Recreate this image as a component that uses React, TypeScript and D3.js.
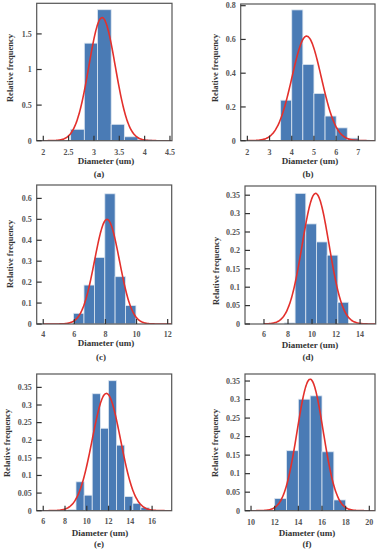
import { useEffect, useRef } from 'react';
import * as d3 from 'd3';

// panel letters
const panelNames = ['(a)', '(b)', '(c)', '(d)', '(e)', '(f)'];

// bin edges and relative frequencies
const edgesA = [2.54, 2.81, 3.07, 3.34, 3.6, 3.87, 4.14];
const freqA = [0.16, 1.37, 1.84, 0.23, 0.055, 0.015];

const edgesB = [3.5, 4, 4.5, 5, 5.5, 6, 6.5, 7, 7.5];
const freqB = [0.24, 0.775, 0.452, 0.28, 0.146, 0.076, 0.015, 0.004];

const edgesC = [5.95, 6.62, 7.29, 7.96, 8.62, 9.29, 9.96];
const freqC = [0.051, 0.186, 0.318, 0.622, 0.226, 0.088];

const edgesD = [7.7, 8.59, 9.48, 10.37, 11.26, 12.15, 13.04];
const freqD = [0.003, 0.355, 0.272, 0.223, 0.187, 0.059];

const edgesE = [8.27, 9.01, 9.76, 10.5, 11.25, 11.99, 12.74, 13.48, 14.23, 14.97, 15.72];
const freqE = [0.003, 0.082, 0.044, 0.332, 0.234, 0.369, 0.186, 0.04, 0.021, 0.009];

const edgesF = [12, 13, 14, 15, 16, 17, 18];
const freqF = [0.033, 0.162, 0.301, 0.31, 0.159, 0.029];

// fitted normal curves (mean, sd, peak height)
const fitMean = [3.16, 4.67, 8.1, 10.3, 11.8, 15.0];
const fitSd = [0.26, 0.66, 0.8, 1.12, 1.3, 1.1];
const fitPeak = [1.73, 0.62, 0.5, 0.355, 0.333, 0.355];

// axis domains
const xDomains = [[1.87, 4.54], [1.7, 7.75], [3.58, 12.26], [4.42, 15.3], [5.4, 17.8], [9.49, 20.48]];
const yDomains = [[0, 1.93], [0, 0.81], [0, 0.664], [0, 0.375], [0, 0.388], [0, 0.369]];

// tick values
const xTicks = [
  [2, 2.5, 3, 3.5, 4, 4.5],
  [2, 3, 4, 5, 6, 7],
  [4, 6, 8, 10, 12],
  [6, 8, 10, 12, 14],
  [6, 8, 10, 12, 14, 16],
  [10, 12, 14, 16, 18, 20],
];
const yTicks = [
  [0, 0.5, 1, 1.5],
  [0, 0.2, 0.4, 0.6, 0.8],
  [0, 0.1, 0.2, 0.3, 0.4, 0.5, 0.6],
  [0, 0.05, 0.1, 0.15, 0.2, 0.25, 0.3, 0.35],
  [0, 0.05, 0.1, 0.15, 0.2, 0.25, 0.3, 0.35],
  [0, 0.05, 0.1, 0.15, 0.2, 0.25, 0.3, 0.35],
];

const allEdges = [edgesA, edgesB, edgesC, edgesD, edgesE, edgesF];
const allFreq = [freqA, freqB, freqC, freqD, freqE, freqF];

// frame boxes in page pixels [left, top, right, bottom]
const frames = [
  [36.7, 3.3, 172, 140.7],
  [240.7, 4, 375, 140.7],
  [36.7, 185, 171.7, 324],
  [245, 186, 375.7, 324],
  [36.7, 374, 171.7, 510.7],
  [245, 374, 375, 510.7],
];
// label rows: tick label, axis title, panel letter (vertical centers) + centers
const labelLayout = [
  { tickY: 152, titleY: 161, nameY: 173.5, titleX: 106, nameX: 99, yTitleX: 10, yTitleY: 68 },
  { tickY: 152, titleY: 161, nameY: 173.5, titleX: 310, nameX: 308, yTitleX: 215, yTitleY: 68 },
  { tickY: 334, titleY: 343, nameY: 357, titleX: 106, nameX: 101, yTitleX: 10, yTitleY: 254 },
  { tickY: 334, titleY: 344.5, nameY: 357, titleX: 310, nameX: 308, yTitleX: 216, yTitleY: 271 },
  { tickY: 521, titleY: 532.5, nameY: 543.5, titleX: 100, nameX: 99, yTitleX: 7, yTitleY: 443 },
  { tickY: 522, titleY: 532.5, nameY: 543.5, titleX: 307, nameX: 307, yTitleX: 215, yTitleY: 443 },
];

const serif = '"Liberation Serif", "DejaVu Serif", serif';

const App = () => {
  const ref = useRef<SVGSVGElement | null>(null);

  useEffect(() => {
    const svg = d3.select(ref.current);
    svg.selectAll('*').remove();

    frames.forEach((fr, i) => {
      const [l, t, r, b] = fr;
      const x = d3.scaleLinear().domain(xDomains[i]).range([l, r]);
      const y = d3.scaleLinear().domain(yDomains[i]).range([b, t]);
      const g = svg.append('g');

      const clipId = `clip${i}`;
      g.append('clipPath')
        .attr('id', clipId)
        .append('rect')
        .attr('x', l)
        .attr('y', t)
        .attr('width', r - l)
        .attr('height', b - t);

      // bars
      const edges = allEdges[i];
      const bars = allFreq[i].map((v, k) => ({ x0: edges[k], x1: edges[k + 1], v }));
      g.selectAll('rect.bar')
        .data(bars)
        .join('rect')
        .attr('class', 'bar')
        .attr('x', (d) => x(d.x0))
        .attr('y', (d) => y(d.v))
        .attr('width', (d) => x(d.x1) - x(d.x0))
        .attr('height', (d) => y(0) - y(d.v))
        .attr('fill', '#4a7bb5')
        .attr('stroke', '#dde6f0')
        .attr('stroke-width', 0.8);

      // fitted curve
      const [d0, d1] = xDomains[i];
      const xs = d3.range(0, 201).map((k) => d0 + ((d1 - d0) * k) / 200);
      const curve = d3
        .line<number>()
        .x((v) => x(v))
        .y((v) => y(fitPeak[i] * Math.exp(-((v - fitMean[i]) ** 2) / (2 * fitSd[i] ** 2))))
        .curve(d3.curveBasis);
      g.append('path')
        .datum(xs.filter((v) => v >= xTicks[i][0] - 0.02))
        .attr('d', curve)
        .attr('clip-path', `url(#${clipId})`)
        .attr('fill', 'none')
        .attr('stroke', '#e3302c')
        .attr('stroke-width', 1.6);

      // frame
      g.append('rect')
        .attr('x', l)
        .attr('y', t)
        .attr('width', r - l)
        .attr('height', b - t)
        .attr('fill', 'none')
        .attr('stroke', '#555')
        .attr('stroke-width', 1.2);

      // x ticks (inward)
      g.selectAll('line.xt')
        .data(xTicks[i])
        .join('line')
        .attr('x1', (d) => x(d))
        .attr('x2', (d) => x(d))
        .attr('y1', b)
        .attr('y2', b - 5)
        .attr('stroke', '#333')
        .attr('stroke-width', 1.2);
      g.selectAll('text.xl')
        .data(xTicks[i])
        .join('text')
        .attr('x', (d) => x(d))
        .attr('y', labelLayout[i].tickY)
        .attr('dy', '0.35em')
        .attr('text-anchor', 'middle')
        .attr('font-family', serif)
        .attr('font-weight', 'bold')
        .attr('font-size', 8)
        .attr('fill', '#555')
        .text((d) => String(d));

      // y ticks (inward)
      g.selectAll('line.yt')
        .data(yTicks[i])
        .join('line')
        .attr('x1', l)
        .attr('x2', l + 5)
        .attr('y1', (d) => y(d))
        .attr('y2', (d) => y(d))
        .attr('stroke', '#333')
        .attr('stroke-width', 1.2);
      g.selectAll('text.yl')
        .data(yTicks[i])
        .join('text')
        .attr('x', l - 5)
        .attr('y', (d) => y(d))
        .attr('dy', '0.35em')
        .attr('text-anchor', 'end')
        .attr('font-family', serif)
        .attr('font-weight', 'bold')
        .attr('font-size', 8)
        .attr('fill', '#555')
        .text((d) => String(d));

      const lay = labelLayout[i];
      g.append('text')
        .attr('x', lay.titleX)
        .attr('y', lay.titleY)
        .attr('dy', '0.35em')
        .attr('text-anchor', 'middle')
        .attr('font-family', serif)
        .attr('font-weight', 'bold')
        .attr('font-size', 9)
        .attr('fill', '#333')
        .text('Diameter (um)');
      g.append('text')
        .attr('x', lay.nameX)
        .attr('y', lay.nameY)
        .attr('dy', '0.35em')
        .attr('text-anchor', 'middle')
        .attr('font-family', serif)
        .attr('font-weight', 'bold')
        .attr('font-size', 9)
        .attr('fill', '#333')
        .text(panelNames[i]);
      g.append('text')
        .attr('transform', `translate(${lay.yTitleX},${lay.yTitleY}) rotate(-90)`)
        .attr('dy', '0.35em')
        .attr('text-anchor', 'middle')
        .attr('font-family', serif)
        .attr('font-weight', 'bold')
        .attr('font-size', 8.5)
        .attr('fill', '#333')
        .text('Relative frequency');
    });
  }, []);

  return (
    <div style={{ position: 'absolute', left: 0, top: 0 }}>
      <svg ref={ref} width={380} height={550} style={{ display: 'block', background: '#fff' }} />
    </div>
  );
};

export default App;
